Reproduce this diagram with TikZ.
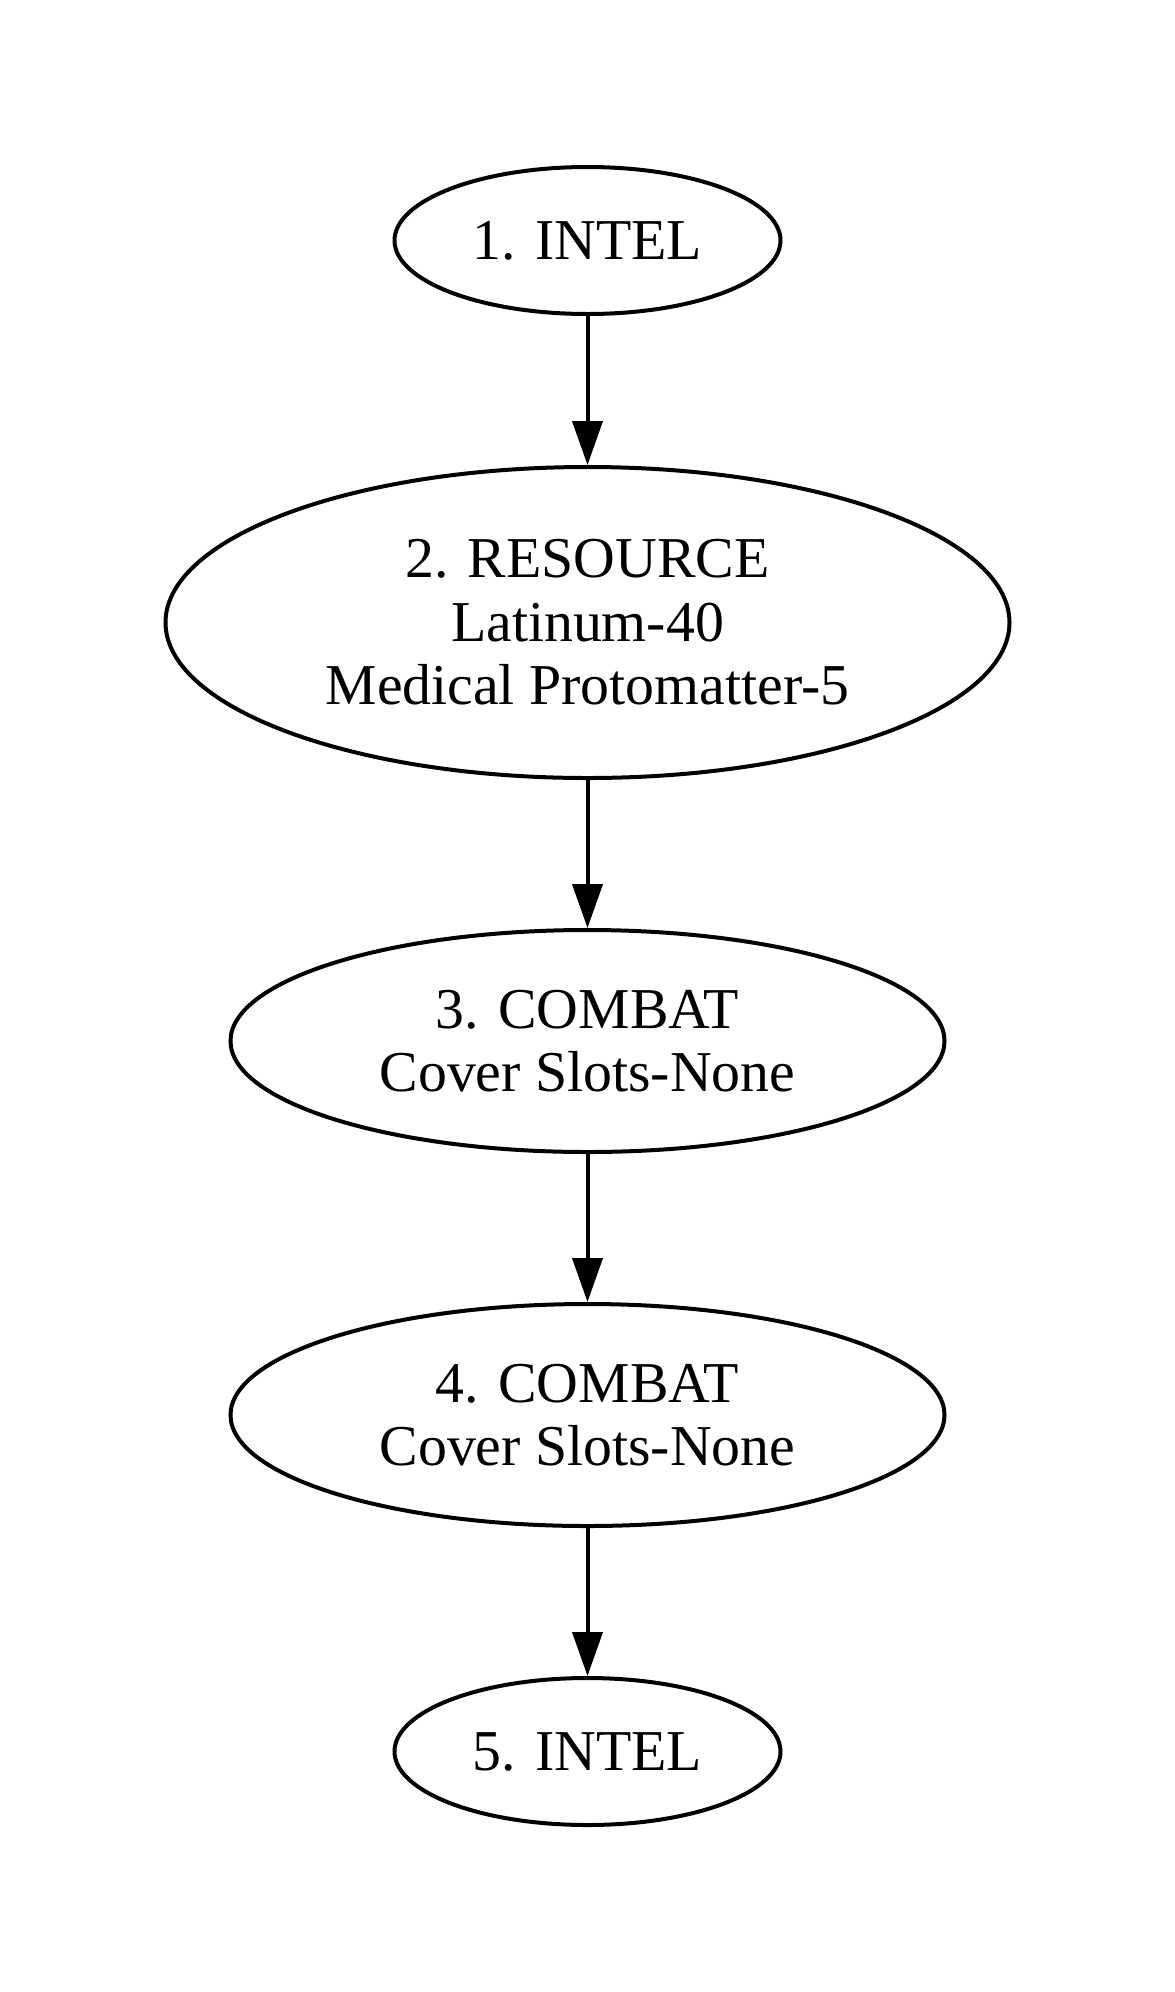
\documentclass[tikz,border=0pt]{standalone}
\usepackage{fontspec}
\setmainfont{Liberation Serif}
\usetikzlibrary{shapes.geometric,arrows.meta}
\tikzset{
  stage/.style={draw=black, line width=1pt, ellipse, inner sep=0pt, align=center,
    font=\fontsize{14.45}{15.9}\selectfont},
  small/.style={stage, minimum width=96.5pt, minimum height=36.75pt},
  big/.style={stage, minimum width=211pt, minimum height=77.75pt},
  mid/.style={stage, minimum width=178.5pt, minimum height=55.5pt},
  link/.style={line width=1pt, -{Triangle[length=11pt,width=7.5pt]}}
}
\begin{document}
\begin{tikzpicture}[x=0.25pt,y=-0.25pt]
\useasboundingbox (0,0) rectangle (1175,1992);
\node[small] (n1) at (587.5,240.5) {1. INTEL};
\node[big] (n2) at (587.5,622.5) {2. RESOURCE\\Latinum-40\\Medical Protomatter-5};
\node[mid] (n3) at (587.5,1041) {3. COMBAT\\Cover Slots-None};
\node[mid] (n4) at (587.5,1415) {4. COMBAT\\Cover Slots-None};
\node[small] (n5) at (587.5,1751.5) {5. INTEL};
\draw[link] (n1.south) -- (n2.north);
\draw[link] (n2.south) -- (n3.north);
\draw[link] (n3.south) -- (n4.north);
\draw[link] (n4.south) -- (n5.north);
\end{tikzpicture}
\end{document}
